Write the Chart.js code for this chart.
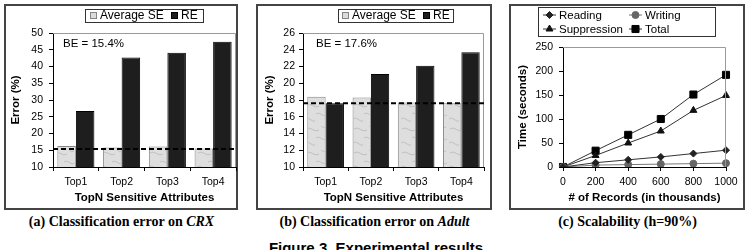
<!DOCTYPE html>
<html>
<head>
<meta charset="utf-8">
<script src="https://cdn.jsdelivr.net/npm/chart.js@4.4.1/dist/chart.umd.min.js"></script>
<style>
	body { margin: 0; background: #fff; width: 747px; height: 250px; position: relative; overflow: hidden; font-family: "Liberation Sans", Arial, sans-serif; }
	.frame { position: absolute; top: 4px; height: 206px; border: 2px solid #444; box-sizing: border-box; }
	canvas { position: absolute; top: 4px; }
	.cap { position: absolute; top: 213px; font-family: "Liberation Serif", "Times New Roman", serif; font-weight: bold; font-size: 14px; line-height: 17px; text-align: center; white-space: nowrap; }
	.fig { position: absolute; top: 240px; left: 200px; width: 352px; font-weight: bold; font-size: 15px; line-height: 16px; text-align: center; white-space: nowrap; }
</style>
</head>
<body>
<div class="frame" style="left:4px;width:234px"></div>
<div class="frame" style="left:256px;width:236px"></div>
<div class="frame" style="left:509px;width:236px"></div>
<canvas id="crxChart" width="234" height="206" style="left:4px"></canvas>
<canvas id="adultChart" width="236" height="206" style="left:256px"></canvas>
<canvas id="scaleChart" width="236" height="206" style="left:509px"></canvas>
<div class="cap" style="left:0px;width:243px">(a) Classification error on <i>CRX</i></div>
<div class="cap" style="left:253px;width:243px">(b) Classification error on <i>Adult</i></div>
<div class="cap" style="left:506px;width:243px">(c) Scalability (h=90%)</div>
<div class="fig">Figure 3. Experimental results</div>
<script>
const topN = ["Top1", "Top2", "Top3", "Top4"];
const seriesNames = ["Average SE", "RE"];

const crxAvgSE = [16.3, 15.8, 16.1, 15.5];
const crxRE = [26.7, 42.7, 44.1, 47.4];
const crxBE = 15.4;

const adultAvgSE = [18.4, 18.3, 17.7, 17.6];
const adultRE = [17.6, 21.1, 22.1, 23.7];
const adultBE = 17.6;

const records = ["0", "200", "400", "600", "800", "1000"];
const reading = [0, 9, 15, 21, 28, 35];
const writing = [0, 4, 5, 6, 7, 8];
const suppression = [0, 24, 50, 75, 118, 149];
const total = [0, 34, 67, 100, 151, 192];

const FONT = "'Liberation Sans', Arial, sans-serif";

// grey marbled fill for the SE bars
function marble(ctx) {
	const c = document.createElement("canvas");
	c.width = 24;
	c.height = 24;
	const g = c.getContext("2d");
	g.fillStyle = "#dedede";
	g.fillRect(0, 0, 24, 24);
	g.strokeStyle = "#b8b8b8";
	g.lineWidth = 0.8;
	g.beginPath();
	g.moveTo(2, 5); g.bezierCurveTo(7, 2, 10, 9, 15, 6);
	g.moveTo(12, 14); g.bezierCurveTo(16, 11, 19, 18, 23, 15);
	g.moveTo(1, 19); g.bezierCurveTo(5, 16, 7, 22, 11, 21);
	g.moveTo(17, 2); g.quadraticCurveTo(20, 5, 22, 3);
	g.stroke();
	return ctx.createPattern(c, "repeat");
}

const boxLegend = {
	id: "boxLegend",
	afterDraw(chart, args, opts) {
		const ctx = chart.ctx;
		const [bx, by, bw, bh] = opts.box;
		ctx.save();
		ctx.strokeStyle = "#333";
		ctx.lineWidth = 1;
		ctx.strokeRect(bx + 0.5, by + 0.5, bw, bh);
		ctx.font = opts.font;
		ctx.textBaseline = "middle";
		chart.data.datasets.forEach((ds, i) => {
			const [x, y] = opts.slots[i];
			if (opts.kind === "bar") {
				ctx.fillStyle = ds.legendFill;
				ctx.fillRect(x, y - 3.5, 7, 7);
				ctx.strokeStyle = ds.borderColor;
				ctx.strokeRect(x + 0.5, y - 3, 6, 6);
				ctx.fillStyle = "#000";
				ctx.fillText(ds.label, x + 10, y + 0.5);
			} else {
				ctx.strokeStyle = ds.borderColor;
				ctx.lineWidth = 1;
				ctx.beginPath();
				ctx.moveTo(x, y);
				ctx.lineTo(x + 13, y);
				ctx.stroke();
				ctx.fillStyle = ds.pointBackgroundColor;
				ctx.strokeStyle = ds.pointBorderColor;
				Chart.helpers.drawPoint(ctx, { pointStyle: ds.pointStyle, radius: ds.legendRadius, rotation: 0, borderWidth: 1 }, x + 6.5, y);
				ctx.fillStyle = "#000";
				ctx.fillText(ds.label, x + 16, y + 0.5);
			}
		});
		ctx.restore();
	},
};

const plotDeco = {
	id: "plotDeco",
	afterDatasetsDraw(chart, args, opts) {
		const { ctx, chartArea: a } = chart;
		ctx.save();
		ctx.strokeStyle = "#9a9a9a";
		ctx.lineWidth = 1;
		ctx.beginPath();
		ctx.moveTo(a.left, a.top + 0.5);
		ctx.lineTo(a.right - 0.5, a.top + 0.5);
		ctx.lineTo(a.right - 0.5, a.bottom);
		ctx.stroke();
		if (opts.be !== undefined) {
			const y = chart.scales.y.getPixelForValue(opts.be);
			ctx.strokeStyle = "#000";
			ctx.lineWidth = 2;
			ctx.setLineDash([5, 3]);
			ctx.beginPath();
			ctx.moveTo(a.left, y);
			ctx.lineTo(a.right, y);
			ctx.stroke();
			ctx.setLineDash([]);
			ctx.fillStyle = "#000";
			ctx.font = "11.5px " + FONT;
			ctx.textBaseline = "middle";
			ctx.fillText("BE = " + opts.be + "%", a.left + opts.textDx, a.top + 11);
		}
		ctx.restore();
	},
};

function axisCommon(title, titlePad) {
	return {
		border: { color: "#000", width: 1 },
		grid: { drawOnChartArea: false, color: "#000", tickLength: 4 },
		ticks: { color: "#000", font: { family: FONT, size: 10.5 } },
		title: { display: true, text: title, color: "#000", font: { family: FONT, size: 11.5, weight: "bold" }, padding: titlePad },
	};
}

function makeBarChart(id, se, re, be, yMin, yMax, yStep, geo) {
	const canvas = document.getElementById(id);
	const ctx = canvas.getContext("2d");
	const sePattern = marble(ctx);
	const xAxis = axisCommon("TopN Sensitive Attributes", { top: 0, bottom: 5 });
	xAxis.ticks.padding = 5;
	xAxis.afterFit = (s) => { s.height = 43; };
	const yAxis = axisCommon("Error (%)", { top: geo.yTitlePad, bottom: 0 });
	yAxis.min = yMin;
	yAxis.max = yMax;
	yAxis.ticks.stepSize = yStep;
	yAxis.ticks.padding = geo.yTickPad;
	yAxis.afterFit = (s) => { s.width = geo.yWidth; };

	return new Chart(ctx, {
		type: "bar",
		data: {
			labels: topN,
			datasets: [
				{ label: seriesNames[0], data: se, backgroundColor: sePattern, legendFill: "#dcdcdc", borderColor: "#858585", borderWidth: 1 },
				{ label: seriesNames[1], data: re, backgroundColor: "#1e1e1e", legendFill: "#1e1e1e", borderColor: "#000", borderWidth: 1 },
			],
		},
		options: {
			responsive: false,
			animation: false,
			devicePixelRatio: 1,
			categoryPercentage: 0.81,
			barPercentage: 1,
			layout: { padding: { left: 0, right: geo.padRight, top: 29, bottom: 0 } },
			scales: { x: xAxis, y: yAxis },
			plugins: {
				legend: { display: false },
				tooltip: { enabled: false },
				boxLegend: { kind: "bar", box: geo.box, font: "12px " + FONT, slots: geo.slots },
				plotDeco: { be: be, textDx: geo.textDx },
			},
		},
		plugins: [boxLegend, plotDeco],
	});
}

makeBarChart("crxChart", crxAvgSE, crxRE, crxBE, 10, 50, 5, {
	yWidth: 49, padRight: 2, yTitlePad: 5.2, yTickPad: 6, textDx: 10,
	box: [81, 5, 118, 13], slots: [[86, 11.5], [167, 11.5]],
});

makeBarChart("adultChart", adultAvgSE, adultRE, adultBE, 10, 26, 2, {
	yWidth: 47, padRight: 8, yTitlePad: 7.2, yTickPad: 4, textDx: 13,
	box: [82, 5, 115, 13], slots: [[86, 11.5], [167, 11.5]],
});

function lineSet(label, data, style, radius, legendRadius, color, pointColor) {
	return {
		label: label,
		data: data,
		borderColor: color,
		borderWidth: 1,
		pointStyle: style,
		pointRadius: radius,
		legendRadius: legendRadius,
		pointBackgroundColor: pointColor,
		pointBorderColor: pointColor,
		pointBorderWidth: 1,
		tension: 0,
	};
}

(function () {
	const ctx = document.getElementById("scaleChart").getContext("2d");
	const xAxis = axisCommon("# of Records (in thousands)", { top: 0, bottom: 5 });
	xAxis.offset = false;
	xAxis.ticks.padding = 5;
	xAxis.afterFit = (s) => { s.height = 43; };
	const yAxis = axisCommon("Time (seconds)", { top: 7.2, bottom: 0 });
	yAxis.min = 0;
	yAxis.max = 250;
	yAxis.ticks.stepSize = 50;
	yAxis.ticks.padding = 6;
	yAxis.afterFit = (s) => { s.width = 54; };

	new Chart(ctx, {
		type: "line",
		data: {
			labels: records,
			datasets: [
				lineSet("Reading", reading, "rectRot", 3.5, 3.5, "#333", "#222"),
				lineSet("Writing", writing, "circle", 3.5, 3.5, "#777", "#666"),
				lineSet("Suppression", suppression, "triangle", 4, 4, "#333", "#111"),
				lineSet("Total", total, "rect", 5, 5, "#333", "#000"),
			],
		},
		options: {
			responsive: false,
			animation: false,
			devicePixelRatio: 1,
			layout: { padding: { left: 0, right: 19, top: 43, bottom: 0 } },
			scales: { x: xAxis, y: yAxis },
			plugins: {
				legend: { display: false },
				tooltip: { enabled: false },
				boxLegend: { kind: "line", box: [29, 3, 177, 29], font: "11.5px " + FONT, slots: [[34, 11], [120, 11], [34, 25], [120, 25]] },
				plotDeco: {},
			},
		},
		plugins: [boxLegend, plotDeco],
	});
})();
</script>
</body>
</html>
